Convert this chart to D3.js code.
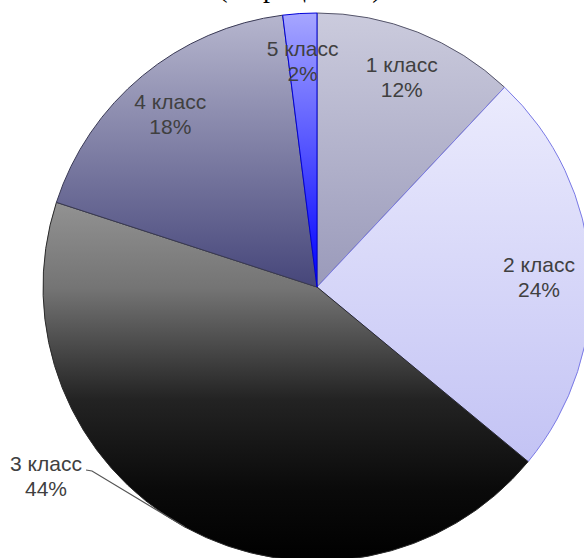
<!DOCTYPE html>
<html>
<head>
<meta charset="utf-8">
<script src="https://cdn.jsdelivr.net/npm/d3@7/dist/d3.min.js"></script>
<style>
  html, body { margin: 0; padding: 0; background: #fff; }
  svg { display: block; }
</style>
</head>
<body>
<svg id="chart" width="584" height="558"></svg>
<script>
// Distribution by class, percent
const categories = ["1 класс", "2 класс", "3 класс", "4 класс", "5 класс"];
const values = [12, 24, 44, 18, 2];
const labels = ["12%", "24%", "44%", "18%", "2%"];
const title = "(в процентах)";

// Vertical gradient stops per slice (top → bottom) and edge colours
const gradients = [
  [[0, "#cbcbdd"], [1, "#9a9aba"]],
  [[0, "#ebebfd"], [1, "#c3c3f4"]],
  [[0, "#929292"], [0.24, "#747474"], [0.55, "#232323"], [0.8, "#0a0a0a"], [1, "#000000"]],
  [[0, "#b6b6ce"], [1, "#46467a"]],
  [[0, "#a6a6ff"], [1, "#0000ff"]]
];
const edges = ["#55556a", "#7a7ae6", "#2a2a2a", "#3a3a55", "#0000d8"];

const svg = d3.select("#chart");
const W = 584, H = 558;
const cx = 317, cy = 287, R = 274;

const defs = svg.append("defs");
gradients.forEach((stops, i) => {
  const g = defs.append("linearGradient")
    .attr("id", "grad" + i)
    .attr("x1", 0).attr("y1", 0).attr("x2", 0).attr("y2", 1);
  stops.forEach(s => g.append("stop").attr("offset", s[0]).attr("stop-color", s[1]));
});

// Title (sits mostly above the visible area)
svg.append("text")
  .attr("x", 300).attr("y", -3)
  .attr("text-anchor", "middle")
  .attr("font-family", "'Liberation Serif', 'Times New Roman', serif")
  .attr("font-size", 28)
  .attr("fill", "#000")
  .text(title);

const pie = d3.pie().sort(null).value(d => d)(values);
const arc = d3.arc().innerRadius(0).outerRadius(R);

const g = svg.append("g").attr("transform", `translate(${cx},${cy})`);

g.selectAll("path.slice")
  .data(pie)
  .join("path")
  .attr("class", "slice")
  .attr("d", arc)
  .attr("fill", (d, i) => `url(#grad${i})`)
  .attr("stroke", (d, i) => edges[i])
  .attr("stroke-width", 1)
  .attr("stroke-linejoin", "round");

// Labels
const fontSize = 21, lineGap = 25;
const labelArc = d3.arc().innerRadius(R * 0.84).outerRadius(R * 0.84);
const outside = 2; // index of the label placed outside with a leader line

pie.forEach((d, i) => {
  let x, y, anchor = "middle";
  if (i === outside) {
    x = 46 - cx; y = 484 - cy - 12;
  } else {
    const c = labelArc.centroid(d);
    x = c[0]; y = c[1];
    // keep the label block inside the drawing
    const halfW = 38;
    x = Math.min(x, W - cx - halfW - 7);
    x = Math.max(x, -cx + halfW + 7);
  }
  const t = g.append("text")
    .attr("text-anchor", anchor)
    .attr("font-family", "'Liberation Sans', Arial, sans-serif")
    .attr("font-size", fontSize)
    .attr("fill", "#404040");
  t.append("tspan").attr("x", x).attr("y", y - 1).text(categories[i]);
  t.append("tspan").attr("x", x).attr("y", y - 1 + lineGap).text(labels[i]);

  if (i === outside) {
    const a = (d.startAngle + d.endAngle) / 2;
    const px = Math.sin(a) * R, py = -Math.cos(a) * R;
    const sx = x + 40, sy = y - 2;
    g.append("path")
      .attr("d", d3.line()([[sx, sy], [sx + 6, sy + 1], [px, py]]))
      .attr("fill", "none")
      .attr("stroke", "#555")
      .attr("stroke-width", 1.2);
  }
});
</script>
</body>
</html>
